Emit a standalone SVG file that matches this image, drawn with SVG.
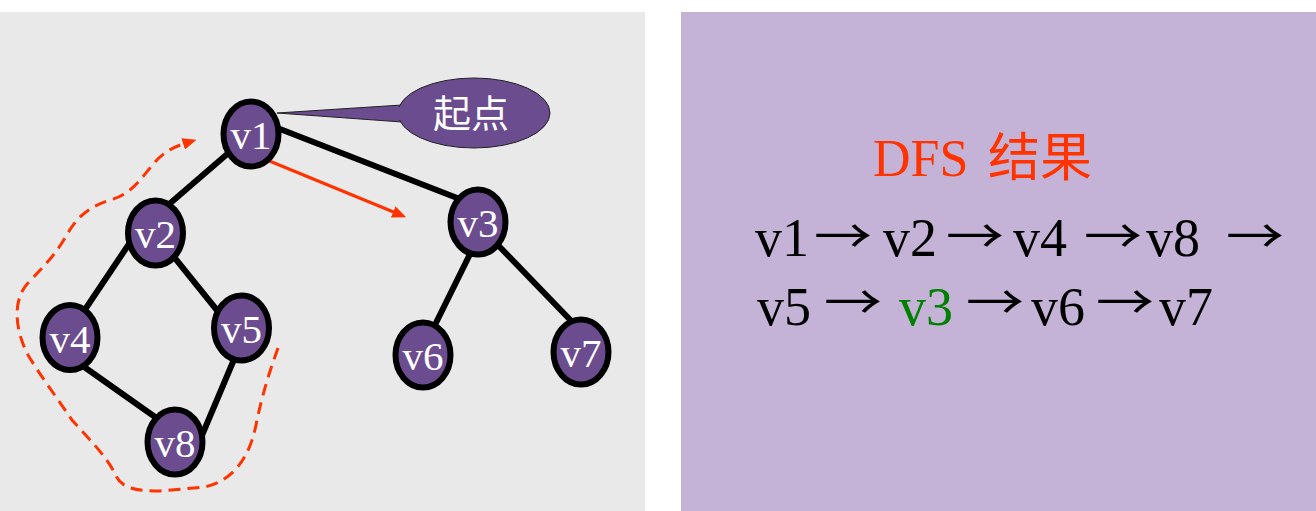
<svg xmlns="http://www.w3.org/2000/svg" width="1316" height="511" viewBox="0 0 1316 511">
<defs>
<style>
.node{fill:#6b4c8f;stroke:#000;stroke-width:6}
.lbl{font-family:"Liberation Serif","Times New Roman",serif;font-size:41px;fill:#fff;text-anchor:middle}
.edge{stroke:#000;stroke-width:6;fill:none}
.red{stroke:#ff3300;fill:none;stroke-width:3}
.seq{font-family:"Liberation Serif","Times New Roman",serif;font-size:54px;fill:#000}
.arr{font-family:"Noto Sans CJK SC",sans-serif;font-size:58px;fill:#000}
</style>
<marker id="ah" viewBox="0 0 14 12" refX="3" refY="6" markerWidth="14" markerHeight="12" orient="auto" markerUnits="userSpaceOnUse">
<path d="M0,0 L14,6 L0,12 z" fill="#ff3300"/>
</marker>
</defs>
<rect x="0" y="12" width="645" height="499" fill="#e9e9e9"/>
<rect x="681" y="12" width="635" height="499" fill="#c4b3d6"/>
<g id="connectors">
<line class="edge" x1="262" y1="122" x2="470" y2="203"/>
<line class="edge" x1="240" y1="143" x2="160" y2="212"/>
<line class="edge" x1="133" y1="238" x2="82" y2="314"/>
<line class="edge" x1="170" y1="252" x2="220" y2="314"/>
<line class="edge" x1="80" y1="364" x2="165" y2="424"/>
<line class="edge" x1="238" y1="350" x2="200" y2="440"/>
<line class="edge" x1="472" y1="250" x2="430" y2="335"/>
<line class="edge" x1="495" y1="242" x2="580" y2="330"/>
<line class="red" x1="267" y1="160" x2="396" y2="213" marker-end="url(#ah)"/>
<path class="red" stroke-dasharray="12,7" marker-end="url(#ah)" d="M278,348 C270,370 262,395 256,425 C250,455 235,480 205,487 L160,491 C135,491 122,488 116,476 C108,458 90,440 72,420 C55,395 40,375 28,355 C15,330 12,300 28,283 C45,265 55,255 65,238 C75,220 85,208 110,200 C130,195 140,180 150,168 C160,155 170,148 186,143"/>
</g>
<g id="callout">
<polygon points="277,113 402,105 402,122" fill="#6b4c8f" stroke="#222" stroke-width="1"/>
<ellipse cx="474" cy="113" rx="76" ry="35" fill="#6b4c8f" stroke="#222" stroke-width="1"/>
<rect x="396" y="107" width="10" height="13" fill="#6b4c8f"/>
<text x="471" y="127" font-family="'Noto Sans CJK SC',sans-serif" font-size="38" fill="#fff" text-anchor="middle">起点</text>
</g>
<g id="v1"><ellipse class="node" cx="251" cy="134" rx="27.5" ry="32.5"/><text class="lbl" x="251" y="149">v1</text></g>
<g id="v2"><ellipse class="node" cx="155.5" cy="233" rx="27.5" ry="32.5"/><text class="lbl" x="155.5" y="248">v2</text></g>
<g id="v3"><ellipse class="node" cx="478" cy="222" rx="27.5" ry="32.5"/><text class="lbl" x="478" y="237">v3</text></g>
<g id="v4"><ellipse class="node" cx="70" cy="337.5" rx="27.5" ry="32.5"/><text class="lbl" x="70" y="352.5">v4</text></g>
<g id="v5"><ellipse class="node" cx="241.5" cy="328" rx="27.5" ry="32.5"/><text class="lbl" x="241.5" y="343">v5</text></g>
<g id="v6"><ellipse class="node" cx="423" cy="355" rx="27.5" ry="32.5"/><text class="lbl" x="423" y="370">v6</text></g>
<g id="v7"><ellipse class="node" cx="581" cy="352" rx="27.5" ry="32.5"/><text class="lbl" x="581" y="367">v7</text></g>
<g id="v8"><ellipse class="node" cx="175" cy="442" rx="27.5" ry="32.5"/><text class="lbl" x="175" y="457">v8</text></g>
<g id="result">
<text y="176" fill="#ff3300" font-size="52"><tspan x="873" font-family="'Liberation Serif','Times New Roman',serif">DFS</tspan><tspan x="988" font-family="'Noto Sans CJK SC',sans-serif">结果</tspan></text>
<text class="seq" y="256"><tspan x="755">v1</tspan><tspan x="883">v2</tspan><tspan x="1013">v4</tspan><tspan x="1146">v8</tspan></text>
<text class="arr" transform="translate(814,253) scale(1,0.8)">→</text>
<text class="arr" transform="translate(946,253) scale(1,0.8)">→</text>
<text class="arr" transform="translate(1084,253) scale(1,0.8)">→</text>
<text class="arr" transform="translate(1226,253) scale(1,0.8)">→</text>
<text class="seq" y="325"><tspan x="757">v5</tspan><tspan x="899" fill="#008000">v3</tspan><tspan x="1031">v6</tspan><tspan x="1159">v7</tspan></text>
<text class="arr" transform="translate(824,319) scale(1,0.8)">→</text>
<text class="arr" transform="translate(966,319) scale(1,0.8)">→</text>
<text class="arr" transform="translate(1096,319) scale(1,0.8)">→</text>
</g>
</svg>
